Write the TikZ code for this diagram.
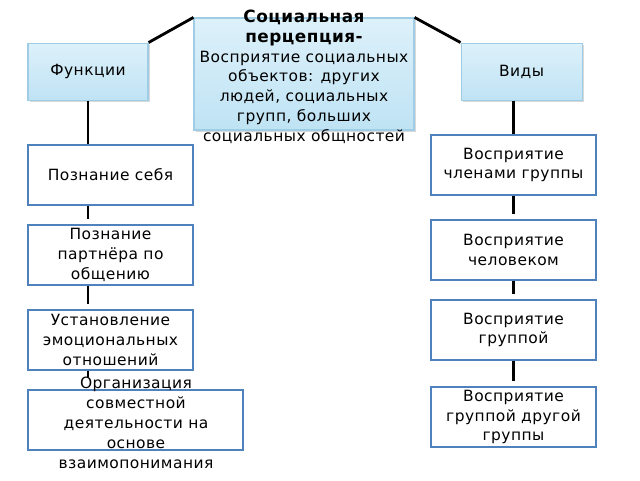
\documentclass[tikz,border=0pt]{standalone}
\usepackage{fontspec}
\setmainfont{DejaVu Sans}[LetterSpace=3]
\usetikzlibrary{shadows}

\definecolor{boxline}{HTML}{4F81BD}
\definecolor{headline}{HTML}{9FCDE6}
\definecolor{headtop}{HTML}{DDF1FA}
\definecolor{headbot}{HTML}{BFE3F4}
\newcommand{\percword}[1]{{\fontsize{12}{14.2}\selectfont\bfseries #1}}

\begin{document}
\begin{tikzpicture}[
  head/.style={draw=headline, line width=0.8pt, top color=headtop, bottom color=headbot,
    drop shadow={shadow xshift=1.5pt, shadow yshift=-1.5pt, opacity=0.3},
    inner sep=0pt, align=center, font=\fontsize{11}{14}\selectfont},
  item/.style={draw=boxline, line width=0.9pt, fill=white, minimum width=4.125cm,
    minimum height=1.5cm, inner sep=0pt, align=center, font=\fontsize{11}{14}\selectfont},
  txt/.style={align=center, inner sep=0pt, font=\fontsize{11}{14.2}\selectfont},
  link/.style={line width=2pt},
  gap/.style={link, shorten >=4pt}
]
  \useasboundingbox (0,0) rectangle (16,12);
  \node[head, minimum width=5.5cm, minimum height=2.8cm](perc) at (7.6, 10.15){};
  \node[txt](perctxt) at (7.6, 10.08){\percword{Социальная}\\\percword{перцепция-}\\Восприятие социальных\\объектов: других\\людей, социальных\\групп, больших\\социальных общностей};
  \node[head, minimum width=3cm, minimum height=1.425cm](funk) at (2.2, 10.21){Функции};
  \node[head, minimum width=3.025cm, minimum height=1.425cm](vidy) at (13.04, 10.21){Виды};
  \node[item](l1) at (2.7625, 7.625){Познание себя};
  \node[item](l2) at (2.7625, 5.625){Познание\\партнёра по\\общению};
  \node[item](l3) at (2.7625, 3.5){Установление\\эмоциональных\\отношений};
  \node[item, minimum width=5.375cm](l4) at (3.3875, 1.5){};
  \node[txt](l4txt) at (3.4, 1.425){Организация\\совместной\\деятельности на\\основе\\взаимопонимания};
  \node[item](r1) at (12.8375, 7.875){Восприятие\\членами группы};
  \node[item](r2) at (12.8375, 5.75){Восприятие\\человеком};
  \node[item](r3) at (12.8375, 3.75){Восприятие\\группой};
  \node[item](r4) at (12.8375, 1.575){Восприятие\\группой другой\\группы};
  \draw[link] (funk.north east)--(perc.north west) (perc.north east)--(vidy.north west);
  \draw[link] (funk.south)--(funk.south |- l1.north);
  \draw[gap] (funk.south |- l1.south)--(funk.south |- l2.north);
  \draw[gap] (funk.south |- l2.south)--(funk.south |- l3.north);
  \draw[link] (funk.south |- l3.south)--(funk.south |- l4txt.north);
  \draw[link] (vidy.south -| r1.north)--(r1.north);
  \draw[gap] (r1.south)--(r2.north);
  \draw[gap] (r2.south)--(r3.north);
  \draw[gap] (r3.south)--(r4.north);
\end{tikzpicture}
\end{document}
